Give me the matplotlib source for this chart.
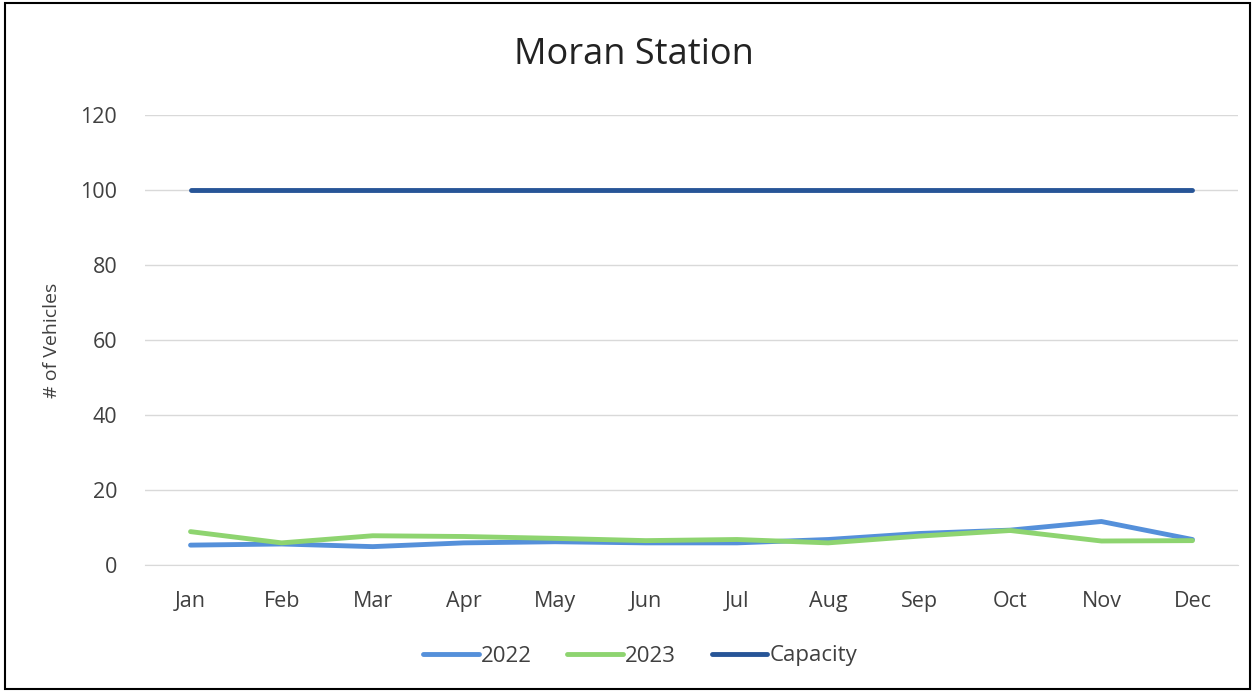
import matplotlib.pyplot as plt
from matplotlib.patches import Rectangle

months = ["Jan", "Feb", "Mar", "Apr", "May", "Jun",
          "Jul", "Aug", "Sep", "Oct", "Nov", "Dec"]
v2022 = [5.3, 5.6, 4.9, 5.9, 6.2, 5.9, 5.9, 6.8, 8.4, 9.3, 11.6, 6.8]
v2023 = [8.9, 5.9, 7.8, 7.6, 7.1, 6.5, 6.8, 5.9, 7.7, 9.2, 6.4, 6.5]
capacity = [100] * 12

plt.rcParams['font.family'] = ['Open Sans', 'DejaVu Sans']

fig = plt.figure(figsize=(12.55, 6.92), dpi=100)
ax = fig.add_axes([145 / 1255, 1 - 565 / 692, (1238 - 145) / 1255, 450 / 692])

x = range(len(months))
ax.plot(x, v2022, color="#5590DA", lw=3.5, label="2022", solid_capstyle="round")
ax.plot(x, v2023, color="#8ED470", lw=3.5, label="2023", solid_capstyle="round")
ax.plot(x, capacity, color="#275597", lw=3.5, label="Capacity", solid_capstyle="round")

ax.set_xlim(-0.5, 11.5)
ax.set_ylim(0, 120)
ax.set_yticks(range(0, 121, 20))
ax.set_xticks(list(x))
ax.set_xticklabels(months)
ax.grid(axis="y", color="#D9D9D9", lw=1)
ax.set_axisbelow(True)
for s in ["top", "right", "left"]:
    ax.spines[s].set_visible(False)
ax.spines["bottom"].set_color("#D9D9D9")
ax.tick_params(length=0, labelsize=15.5, colors="#404040")
ax.tick_params(axis="x", pad=19)
ax.tick_params(axis="y", pad=20)
ax.set_ylabel("# of Vehicles", fontsize=14, color="#404040", labelpad=14)

fig.text(0.505, 1 - 55 / 692, "Moran Station", ha="center", va="center",
         fontsize=26, color="#222222")

fig.legend(loc="center", bbox_to_anchor=(0.51, 1 - 656 / 692), ncol=3,
           frameon=False, fontsize=16, handlelength=2.5, handletextpad=0.1,
           columnspacing=1.6, labelcolor="#404040")

fig.patches.append(Rectangle((0.004, 0.004), 0.992, 0.992, transform=fig.transFigure,
                             fill=False, edgecolor="black", lw=1.5))

fig.savefig("out.png", dpi=100)
